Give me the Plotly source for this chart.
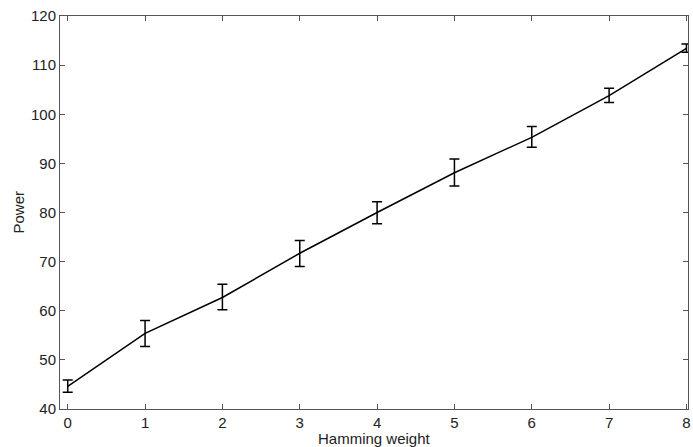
import plotly.graph_objects as go

hamming_weight = [0, 1, 2, 3, 4, 5, 6, 7, 8]
power_mean = [44.6, 55.4, 62.7, 71.7, 80.0, 88.1, 95.3, 103.8, 113.4]
err_upper = [45.9, 58.0, 65.4, 74.3, 82.2, 90.9, 97.5, 105.3, 114.3]
err_lower = [43.4, 52.7, 60.2, 69.0, 77.7, 85.4, 93.3, 102.4, 112.6]

plus = [u - m for u, m in zip(err_upper, power_mean)]
minus = [m - l for m, l in zip(power_mean, err_lower)]

FONT = "Liberation Sans, Arial, sans-serif"

fig = go.Figure()
fig.add_trace(go.Scatter(
    x=hamming_weight, y=power_mean, mode="lines",
    line=dict(color="black", width=1.5),
    error_y=dict(type="data", symmetric=False, array=plus, arrayminus=minus,
                 color="black", thickness=1.5, width=5),
    showlegend=False, cliponaxis=False,
))

axis_common = dict(
    showline=True, linecolor="#555555", linewidth=1, mirror="ticks",
    ticks="inside", ticklen=5, tickcolor="#555555", showgrid=False, zeroline=False,
    automargin=False,
    tickfont=dict(family=FONT, size=15, color="#222222"),
)

fig.update_layout(
    width=693, height=447,
    margin=dict(l=60, r=5, t=16, b=38),
    plot_bgcolor="white", paper_bgcolor="white",
    xaxis=dict(range=[-0.1, 8.02], tickvals=hamming_weight, **axis_common),
    yaxis=dict(range=[40, 120], dtick=10, **axis_common),
    annotations=[
        dict(text="Hamming weight", xref="paper", yref="paper", x=0.5, y=0,
             yshift=-29, xanchor="center", yanchor="middle", showarrow=False,
             font=dict(family=FONT, size=15, color="#222222")),
        dict(text="Power", xref="paper", yref="paper", x=0, y=0.5,
             xshift=-42, textangle=-90, xanchor="center", yanchor="middle",
             showarrow=False, font=dict(family=FONT, size=15, color="#222222")),
    ],
)

fig.write_html("out.html", config={"displayModeBar": False},
               post_script="document.body.style.margin='0';")
